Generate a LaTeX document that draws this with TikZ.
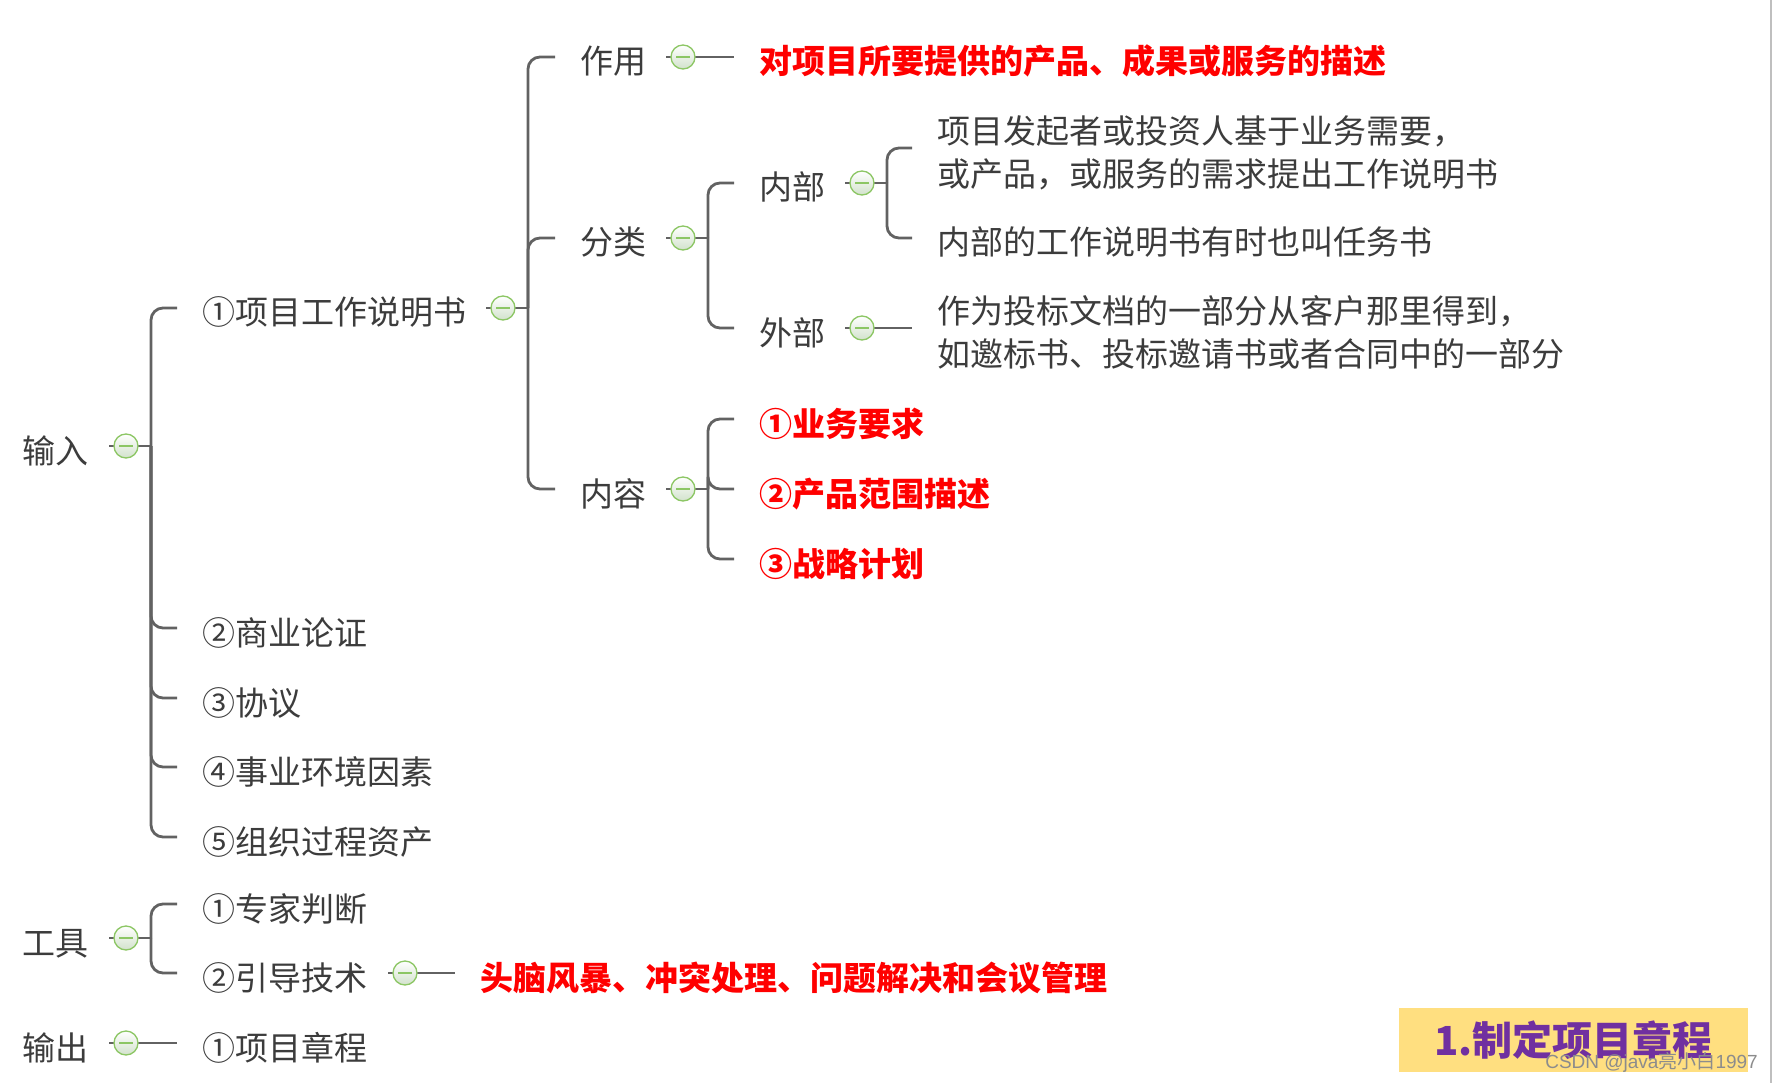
\documentclass[tikz,border=0pt]{standalone}
\usepackage{fontspec}
\setmainfont{Noto Sans CJK SC}
\newfontfamily\wmfont{Liberation Sans}
\usetikzlibrary{positioning,calc}

\definecolor{txtgray}{RGB}{60,60,60}
\definecolor{linegray}{RGB}{98,98,98}
\definecolor{knobgreen}{RGB}{140,198,100}
\definecolor{knobfill}{RGB}{210,226,204}
\definecolor{titlebg}{RGB}{255,223,128}
\definecolor{titlepurple}{RGB}{112,48,160}

\tikzset{
  topic/.style={anchor=west, inner sep=0pt, text=txtgray, align=left,
    text height=31pt, text depth=3pt,
    font=\fontsize{33}{43}\selectfont},
  twoline/.style={text height=74pt},
  hot/.style={topic, text=red, font=\fontsize{33}{43}\selectfont\bfseries},
  knob/.style={circle, draw=knobgreen, line width=1.3pt, inner sep=0pt,
    minimum size=24pt, top color=white, bottom color=knobfill,
    path picture={\draw[knobgreen, line width=1.3pt]
      ([xshift=-7pt]path picture bounding box.center) --
      ([xshift=7pt]path picture bounding box.center);}},
  link/.style={draw=linegray, line width=2.8pt, rounded corners=12pt}
}

\begin{document}
\begin{tikzpicture}[x=1pt,y=-1pt]
  \useasboundingbox (0,0) rectangle (1773,1083);
  \draw[black!25, line width=2pt] (1771,0) -- (1771,1083);

  % level 0
  \node[topic] (in) at (22,449) {输入};
  \node[topic] (tool) at (22,941) {工具};
  \node[topic] (out) at (22,1046) {输出};

  % level 1
  \node[topic] (sow) at (202,311) {①项目工作说明书};
  \foreach \nm/\txt/\yy in {bc/②商业论证/631, agr/③协议/701,
      eef/④事业环境因素/770, opa/⑤组织过程资产/840,
      ej/①专家判断/907, ft/②引导技术/976, chr/①项目章程/1046}
    \node[topic] (\nm) at (202,\yy) {\txt};

  % level 2
  \node[topic] (role) at (580,60) {作用};
  \node[topic] (cls) at (580,241) {分类};
  \node[topic] (cnt) at (580,492) {内容};

  % level 3
  \node[hot] (roled) at (759,60) {对项目所要提供的产品、成果或服务的描述};
  \node[topic] (inner) at (759,186) {内部};
  \node[topic] (outer) at (759,331) {外部};
  \node[hot] (req1) at (759,422) {①业务要求};
  \node[hot] (req2) at (759,492) {②产品范围描述};
  \node[hot] (req3) at (759,562) {③战略计划};
  \node[hot] (ftd) at (480,976) {头脑风暴、冲突处理、问题解决和会议管理};

  % level 4
  \node[topic,twoline] (in1) at (937,151) {项目发起者或投资人基于业务需要，\\或产品，或服务的需求提出工作说明书};
  \node[topic] (in2) at (937,241) {内部的工作说明书有时也叫任务书};
  \node[topic,twoline] (out1) at (937,331) {作为投标文档的一部分从客户那里得到，\\如邀标书、投标邀请书或者合同中的一部分};

  % knobs
  \foreach \k/\x/\y in {kin/126/446, ktool/126/938, kout/126/1043,
      ksow/503/308, kft/405/973, krole/683/57, kcls/683/238,
      kcnt/683/489, kinner/862/183, kouter/862/328}
    \coordinate (\k) at (\x,\y);

  % brackets
  \foreach \k/\kids in {kin/{sow,bc,agr,eef,opa}, ktool/{ej,ft},
      ksow/{role,cls,cnt}, kcls/{inner,outer},
      kcnt/{req1,req2,req3}, kinner/{in1,in2}} {
    \coordinate (b) at ($(\k)+(25,0)$);
    \draw[link] ($(\k)+(-17,0)$) -- (b);
    \foreach \c in \kids
      \draw[link] (b) |- ($(\c.west)+(-25,-3)$);
  }
  % single lines
  \foreach \k/\c in {kout/chr, kft/ftd, krole/roled, kouter/out1}
    \draw[link] ($(\k)+(-17,0)$) -- ($(\c.west)+(-25,-3)$);

  \foreach \k in {kin,ktool,kout,ksow,kft,krole,kcls,kcnt,kinner,kouter}
    \node[knob] (\k o) at (\k) {};

  % title
  \node[fill=titlebg, minimum width=349pt, minimum height=64pt, inner sep=0pt,
    text=titlepurple, font=\fontsize{40}{40}\selectfont\bfseries]
    (title) at (1573.5,1040) {1.制定项目章程};
  \node[anchor=east, inner sep=0pt, text=black!45,
    font=\wmfont\fontsize{19}{19}\selectfont]
    (wm) at (1758,1062) {CSDN @java{\fontspec{Noto Sans CJK SC}亮小白}1997};
\end{tikzpicture}
\end{document}
